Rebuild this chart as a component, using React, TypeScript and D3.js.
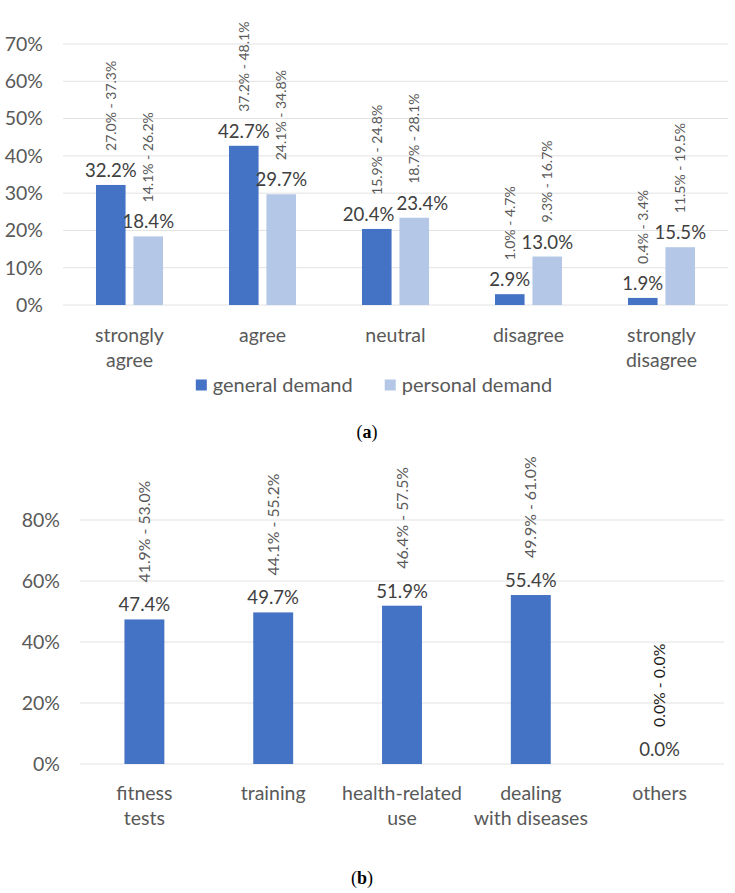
import React, { useRef, useEffect } from "react";
import * as d3 from "d3";

// (a) attitude towards demand
const likertCategories = ["strongly\nagree", "agree", "neutral", "disagree", "strongly\ndisagree"];
const generalDemand = [32.2, 42.7, 20.4, 2.9, 1.9];
const generalLow = [27.0, 37.2, 15.9, 1.0, 0.4];
const generalHigh = [37.3, 48.1, 24.8, 4.7, 3.4];
const personalDemand = [18.4, 29.7, 23.4, 13.0, 15.5];
const personalLow = [14.1, 24.1, 18.7, 9.3, 11.5];
const personalHigh = [26.2, 34.8, 28.1, 16.7, 19.5];
const seriesNames = ["general demand", "personal demand"];
const ticksA = [0, 10, 20, 30, 40, 50, 60, 70];

// (b) fields of use
const usageCategories = ["fitness\ntests", "training", "health-related\nuse", "dealing\nwith diseases", "others"];
const usageValues = [47.4, 49.7, 51.9, 55.4, 0.0];
const usageLow = [41.9, 44.1, 46.4, 49.9, 0.0];
const usageHigh = [53.0, 55.2, 57.5, 61.0, 0.0];
const ticksB = [0, 20, 40, 60, 80];

const FONT = "Lato, 'Open Sans', sans-serif";
const COLORS = ["#4472C4", "#B4C7E7"];
const GRID = "#E2E2E2";
const AXIS_TEXT = "#595959";
const LABEL_TEXT = "#404040";
const VALUE_SIZE = 18.6;

const fmt = (v: number) => v.toFixed(1) + "%";

const App: React.FC = () => {
  const container = useRef<SVGSVGElement>(null);

  useEffect(() => {
    const svg = d3.select(container.current);
    svg.selectAll("*").remove();

    // ---------- chart (a) ----------
    const a = svg.append("g");
    const yA = d3.scaleLinear().domain([0, 70]).range([305, 44]);
    const xA = d3
      .scaleBand()
      .domain(likertCategories)
      .range([63, 728])
      .paddingInner(0.496)
      .paddingOuter(0.248);
    const xInner = d3
      .scaleBand()
      .domain(seriesNames)
      .range([0, xA.bandwidth()])
      .paddingInner(0.21);

    a.selectAll("line.grid")
      .data(ticksA)
      .join("line")
      .attr("x1", 63)
      .attr("x2", 728)
      .attr("y1", (d) => yA(d))
      .attr("y2", (d) => yA(d))
      .attr("stroke", GRID)
      .attr("stroke-width", 1);

    a.selectAll("text.tick")
      .data(ticksA)
      .join("text")
      .attr("x", 43)
      .attr("y", (d) => yA(d))
      .attr("dy", "0.35em")
      .attr("text-anchor", "end")
      .attr("font-family", FONT)
      .attr("font-size", 19.5)
      .attr("fill", AXIS_TEXT)
      .text((d) => d + "%");

    const seriesA = [
      { name: seriesNames[0], values: generalDemand, low: generalLow, high: generalHigh },
      { name: seriesNames[1], values: personalDemand, low: personalLow, high: personalHigh },
    ];

    // value label nodes per series, used below to push apart labels that collide
    const valueNodes: SVGTextElement[][] = [];

    seriesA.forEach((s, si) => {
      const pts = likertCategories.map((c, i) => ({
        cx: (xA(c) as number) + (xInner(s.name) as number) + xInner.bandwidth() / 2,
        x: (xA(c) as number) + (xInner(s.name) as number),
        v: s.values[i],
        lo: s.low[i],
        hi: s.high[i],
      }));

      a.selectAll(null)
        .data(pts)
        .join("rect")
        .attr("x", (d) => d.x)
        .attr("y", (d) => yA(d.v))
        .attr("width", xInner.bandwidth())
        .attr("height", (d) => yA(0) - yA(d.v))
        .attr("fill", COLORS[si]);

      const labels = a
        .selectAll(null)
        .data(pts)
        .join("text")
        .attr("x", (d) => d.cx)
        .attr("y", (d) => yA(d.v) - 8)
        .attr("text-anchor", "middle")
        .attr("font-family", FONT)
        .attr("font-size", VALUE_SIZE)
        .attr("fill", LABEL_TEXT)
        .text((d) => fmt(d.v));
      valueNodes.push(labels.nodes() as SVGTextElement[]);

      a.selectAll(null)
        .data(pts)
        .join("text")
        .attr("transform", (d) => `translate(${d.cx},${yA(d.v) - 34}) rotate(-90)`)
        .attr("dy", "0.35em")
        .attr("text-anchor", "start")
        .attr("font-family", FONT)
        .attr("font-size", 14)
        .attr("fill", AXIS_TEXT)
        .text((d) => `${fmt(d.lo)} - ${fmt(d.hi)}`);
    });

    // nudge side-by-side value labels apart when they would overlap
    likertCategories.forEach((_, i) => {
      const l = valueNodes[0][i];
      const r = valueNodes[1][i];
      const lb = l.getBBox();
      const rb = r.getBBox();
      const vOverlap = Math.abs(lb.y - rb.y) < lb.height * 0.8;
      const overlap = lb.x + lb.width + 2 - rb.x;
      if (vOverlap && overlap > 0) {
        l.setAttribute("x", String(+l.getAttribute("x")! - overlap / 2));
        r.setAttribute("x", String(+r.getAttribute("x")! + overlap / 2));
      }
    });

    // category labels
    likertCategories.forEach((c) => {
      const cx = (xA(c) as number) + xA.bandwidth() / 2;
      const t = a
        .append("text")
        .attr("text-anchor", "middle")
        .attr("font-family", FONT)
        .attr("font-size", 19.5)
        .attr("fill", AXIS_TEXT);
      c.split("\n").forEach((line, li) => {
        t.append("tspan")
          .attr("x", cx)
          .attr("y", 342 + li * 25)
          .text(line);
      });
    });

    // legend
    const legend = a.append("g");
    let lx = 0;
    seriesNames.forEach((name, i) => {
      const item = legend.append("g").attr("transform", `translate(${lx},0)`);
      item
        .append("rect")
        .attr("x", 0)
        .attr("y", -5.5)
        .attr("width", 11)
        .attr("height", 11)
        .attr("fill", COLORS[i]);
      const txt = item
        .append("text")
        .attr("x", 17)
        .attr("dy", "0.35em")
        .attr("font-family", FONT)
        .attr("font-size", 20)
        .attr("fill", AXIS_TEXT)
        .text(name);
      const w = (txt.node() as SVGTextElement).getComputedTextLength();
      lx += 17 + w + 32;
    });
    const legendWidth = lx - 32;
    legend.attr("transform", `translate(${374 - legendWidth / 2},385)`);

    // caption (a)
    const capA = svg
      .append("text")
      .attr("x", 367)
      .attr("y", 438)
      .attr("text-anchor", "middle")
      .attr("font-family", "'Liberation Serif', 'DejaVu Serif', serif")
      .attr("font-size", 18)
      .attr("fill", "#000");
    capA.append("tspan").text("(");
    capA.append("tspan").attr("font-weight", "bold").text("a");
    capA.append("tspan").text(")");

    // ---------- chart (b) ----------
    const b = svg.append("g");
    const yB = d3.scaleLinear().domain([0, 80]).range([764, 520]);
    const xB = d3
      .scaleBand()
      .domain(usageCategories)
      .range([80, 724])
      .paddingInner(0.69)
      .paddingOuter(0.345);

    b.selectAll("line.grid")
      .data(ticksB)
      .join("line")
      .attr("x1", 80)
      .attr("x2", 724)
      .attr("y1", (d) => yB(d))
      .attr("y2", (d) => yB(d))
      .attr("stroke", GRID)
      .attr("stroke-width", 1);

    b.selectAll("text.tick")
      .data(ticksB)
      .join("text")
      .attr("x", 60)
      .attr("y", (d) => yB(d))
      .attr("dy", "0.35em")
      .attr("text-anchor", "end")
      .attr("font-family", FONT)
      .attr("font-size", 19.5)
      .attr("fill", AXIS_TEXT)
      .text((d) => d + "%");

    const ptsB = usageCategories.map((c, i) => ({
      c,
      cx: (xB(c) as number) + xB.bandwidth() / 2,
      v: usageValues[i],
      lo: usageLow[i],
      hi: usageHigh[i],
    }));

    b.selectAll(null)
      .data(ptsB)
      .join("rect")
      .attr("x", (d) => xB(d.c) as number)
      .attr("y", (d) => yB(d.v))
      .attr("width", xB.bandwidth())
      .attr("height", (d) => yB(0) - yB(d.v))
      .attr("fill", COLORS[0]);

    b.selectAll(null)
      .data(ptsB)
      .join("text")
      .attr("x", (d) => d.cx)
      .attr("y", (d) => yB(d.v) - 8)
      .attr("text-anchor", "middle")
      .attr("font-family", FONT)
      .attr("font-size", VALUE_SIZE)
      .attr("fill", LABEL_TEXT)
      .text((d) => fmt(d.v));

    b.selectAll(null)
      .data(ptsB)
      .join("text")
      .attr("transform", (d) => `translate(${d.cx},${yB(d.v) - 37}) rotate(-90)`)
      .attr("dy", "0.35em")
      .attr("text-anchor", "start")
      .attr("font-family", FONT)
      .attr("font-size", 15.8)
      .attr("fill", (d) => (d.hi === 0 ? "#1a1a1a" : AXIS_TEXT))
      .text((d) => `${fmt(d.lo)} - ${fmt(d.hi)}`);

    usageCategories.forEach((c) => {
      const cx = (xB(c) as number) + xB.bandwidth() / 2;
      const t = b
        .append("text")
        .attr("text-anchor", "middle")
        .attr("font-family", FONT)
        .attr("font-size", 19.5)
        .attr("fill", AXIS_TEXT);
      c.split("\n").forEach((line, li) => {
        t.append("tspan")
          .attr("x", cx)
          .attr("y", 800 + li * 25)
          .text(line);
      });
    });

    // caption (b)
    const capB = svg
      .append("text")
      .attr("x", 362)
      .attr("y", 884)
      .attr("text-anchor", "middle")
      .attr("font-family", "'Liberation Serif', 'DejaVu Serif', serif")
      .attr("font-size", 18)
      .attr("fill", "#000");
    capB.append("tspan").text("(");
    capB.append("tspan").attr("font-weight", "bold").text("b");
    capB.append("tspan").text(")");
  }, []);

  return (
    <svg
      ref={container}
      width={735}
      height={893}
      style={{ position: "absolute", left: 0, top: 0, background: "#fff" }}
    />
  );
};

export default App;
